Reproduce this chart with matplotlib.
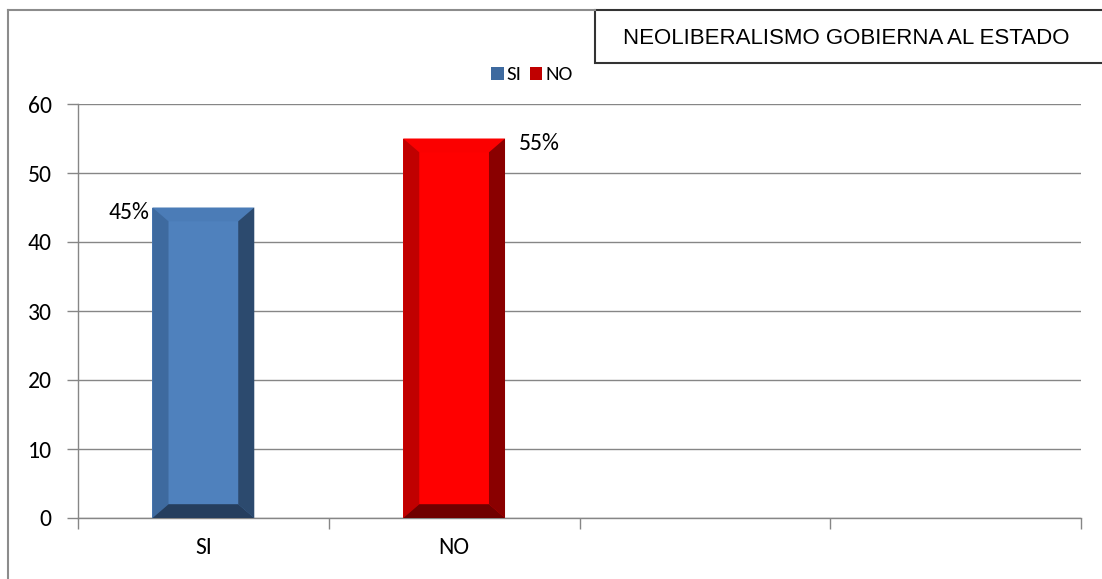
import matplotlib

matplotlib.use("Agg")
import matplotlib.pyplot as plt
from matplotlib.patches import Patch, Polygon, Rectangle
from matplotlib.lines import Line2D

plt.rcParams["font.family"] = ["Carlito", "Lato", "DejaVu Sans"]

# datos
categorias = ["SI", "NO", "", ""]
valores = [45, 55]
etiquetas = ["45%", "55%"]
titulo = "NEOLIBERALISMO GOBIERNA AL ESTADO"

# colores: centro, arriba, izquierda, derecha, abajo
colores = [
    ("#4f81bd", "#4b7cb7", "#3e6a9f", "#2c4a6e", "#253e5e"),
    ("#ff0000", "#fb0000", "#c00000", "#8a0000", "#700000"),
]

fig = plt.figure(figsize=(11.02, 5.79), dpi=100)
ax = fig.add_axes([78 / 1102, 61 / 579, 1003 / 1102, 414 / 579])

ancho = 0.406
dx, dy = 0.064, 2.0
xs = range(len(valores))
ax.bar(xs, valores, width=ancho, color=[c[0] for c in colores], zorder=3)

for x, h, c in zip(xs, valores, colores):
    x0, x1 = x - ancho / 2, x + ancho / 2
    caras = [
        ([(x0, h), (x1, h), (x1 - dx, h - dy), (x0 + dx, h - dy)], c[1]),
        ([(x0, 0), (x0, h), (x0 + dx, h - dy), (x0 + dx, dy)], c[2]),
        ([(x1, 0), (x1, h), (x1 - dx, h - dy), (x1 - dx, dy)], c[3]),
        ([(x0, 0), (x1, 0), (x1 - dx, dy), (x0 + dx, dy)], c[4]),
    ]
    for pts, col in caras:
        ax.add_patch(Polygon(pts, closed=True, facecolor=col, edgecolor="none", zorder=4))

# etiquetas de datos
ax.text(0 - ancho / 2 - 0.012, valores[0] - 0.7, etiquetas[0], ha="right", va="center",
        fontsize=17, zorder=5)
ax.text(1 + ancho / 2 + 0.055, valores[1] - 0.7, etiquetas[1], ha="left", va="center",
        fontsize=17, zorder=5)

ax.set_xlim(-0.5, len(categorias) - 0.5)
ax.set_ylim(0, 60)
ax.set_yticks(range(0, 61, 10))
ax.set_xticks(range(len(categorias)))
ax.set_xticklabels(categorias)
ax.set_xticks([i - 0.5 for i in range(len(categorias) + 1)], minor=True)
ax.tick_params(axis="x", which="major", length=0, pad=14, labelsize=17)
ax.tick_params(axis="x", which="minor", length=8, color="#868686", width=1)
ax.tick_params(axis="y", length=8, color="#868686", width=1, pad=11, labelsize=17)
ax.grid(axis="y", color="#868686", linewidth=1, zorder=0)
for lado in ["top", "right"]:
    ax.spines[lado].set_visible(False)
for lado in ["left", "bottom"]:
    ax.spines[lado].set_color("#868686")
    ax.spines[lado].set_linewidth(1)

# marco exterior
fig.add_artist(Line2D([8 / 1102, 8 / 1102], [0, 1 - 10 / 579], color="#8c8c8c", lw=1.5))
fig.add_artist(Line2D([8 / 1102, 595 / 1102], [1 - 10 / 579, 1 - 10 / 579], color="#8c8c8c", lw=1.5))

# recuadro del titulo
fig.add_artist(Rectangle((595 / 1102, 1 - 63 / 579), 520 / 1102, 53 / 579,
                         facecolor="white", edgecolor="#333333", lw=1.5,
                         transform=fig.transFigure))
fig.text(846 / 1102, 1 - 38 / 579, titulo, ha="center", va="center", fontsize=16,
         family=["Liberation Sans"], color="black")

# leyenda
manejadores = [Patch(facecolor=colores[0][2]), Patch(facecolor=colores[1][2])]
fig.legend(manejadores, categorias[:2], loc="center", ncol=2, frameon=False,
           bbox_to_anchor=(532 / 1102, 1 - 75 / 579), fontsize=15,
           handlelength=0.6, handleheight=0.6, handletextpad=0.15,
           columnspacing=0.4, borderpad=0)

fig.savefig("out.png", dpi=100)
